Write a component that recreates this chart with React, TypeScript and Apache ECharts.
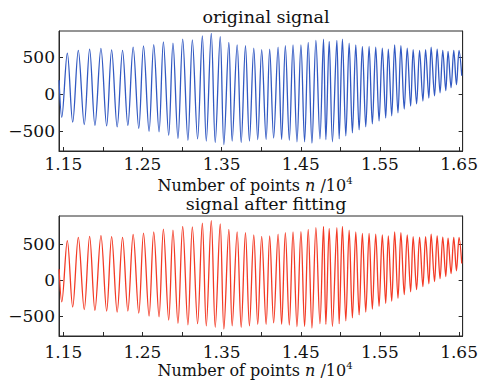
import React, { useEffect, useRef } from "react";
import * as echarts from "echarts";

// Positions (n / 10^4) of the successive peaks and troughs
const extremaX = [
  1.1446, 1.148, 1.155, 1.1618, 1.1689, 1.1764, 1.1832, 1.1899, 1.1975, 1.2047,
  1.211, 1.218, 1.2248, 1.2315, 1.2382, 1.2453, 1.2513, 1.2583, 1.2642, 1.2709,
  1.2764, 1.2831, 1.2885, 1.2948, 1.3008, 1.3074, 1.313, 1.3196, 1.3256, 1.3306,
  1.3369, 1.3419, 1.3482, 1.3528, 1.3591, 1.3633, 1.3696, 1.3747, 1.3801, 1.3851,
  1.3906, 1.3956, 1.4006, 1.4062, 1.4107, 1.4157, 1.4213, 1.4258, 1.4305, 1.4355,
  1.4402, 1.4452, 1.4502, 1.4548, 1.4594, 1.4641, 1.4691, 1.4742, 1.4787, 1.4817,
  1.4859, 1.49, 1.4956, 1.4985, 1.5026, 1.5069, 1.5111, 1.5152, 1.5195, 1.5237,
  1.5278, 1.5321, 1.5363, 1.5404, 1.5447, 1.5489, 1.553, 1.5573, 1.5606, 1.5649,
  1.5686, 1.5728, 1.5765, 1.5807, 1.5845, 1.5888, 1.592, 1.5963, 1.6001, 1.6043,
  1.6077, 1.6118, 1.6147, 1.619, 1.6223, 1.626, 1.6294, 1.6332, 1.6361, 1.6399,
  1.6433, 1.6467, 1.65, 1.6534,
];

const originalSignal = [
  190, -310, 557, -376, 593, -407, 611, -420, 620, -427,
  600, -440, 593, -420, 637, -460, 655, -500, 670, -505,
  709, -553, 690, -597, 744, -620, 736, -600, 789, -630,
  824, -650, 780, -680, 700, -630, 669, -650, 656, -630,
  624, -610, 602, -610, 611, -590, 637, -610, 656, -620,
  669, -640, 669, -640, 700, -660, 727, -600, 744, -610,
  713, -640, 727, -600, 744, -560, 691, -520, 669, -480,
  647, -440, 647, -400, 637, -360, 624, -320, 611, -290,
  669, -250, 656, -200, 624, -160, 602, -130, 593, -90,
  602, -50, 637, -20, 611, 20, 593, 50, 580, 90,
  593, 130, 593, 250,
];

const fittedSignal = [
  150, -300, 545, -370, 590, -405, 605, -415, 615, -425,
  600, -440, 590, -425, 630, -455, 650, -495, 665, -505,
  705, -550, 690, -595, 740, -615, 735, -600, 785, -630,
  820, -650, 775, -675, 700, -630, 665, -650, 655, -630,
  625, -610, 605, -610, 610, -590, 635, -610, 655, -620,
  665, -640, 670, -640, 700, -660, 725, -600, 740, -610,
  715, -640, 725, -600, 740, -560, 690, -520, 665, -480,
  645, -440, 645, -400, 635, -360, 625, -320, 610, -290,
  665, -250, 655, -200, 625, -160, 600, -130, 595, -90,
  600, -50, 635, -20, 610, 20, 595, 50, 580, 90,
  590, 130, 590, 230,
];

const xTickValues = [1.15, 1.2, 1.25, 1.3, 1.35, 1.4, 1.45, 1.5, 1.55, 1.6, 1.65];
const xLabelValues = [1.15, 1.25, 1.35, 1.45, 1.55, 1.65];
const yTickValues = [-500, 0, 500];
const titles = ["original signal", "signal after fitting"];

const FONT = "DejaVu Serif";
const FRAME = "#2a2a2a";

export default function App() {
  const ref = useRef<HTMLDivElement>(null);

  useEffect(() => {
    const chart = echarts.init(ref.current as HTMLDivElement, null, { renderer: "svg" });

    const grids = [
      { left: 59, top: 31, width: 404, height: 120, yMin: -765, yMax: 855, labelMargin: 4, titleY: 17, nameY: 185 },
      { left: 59, top: 216, width: 404, height: 120, yMin: -770, yMax: 885, labelMargin: 7, titleY: 204, nameY: 370 },
    ];

    const yFmt = (v: number) => (v < 0 ? "\u2212" + Math.abs(v) : String(v));

    const xAxis: any[] = [];
    const yAxis: any[] = [];
    grids.forEach((g, gi) => {
      xAxis.push({
        type: "value",
        gridIndex: gi,
        min: 1.1445,
        max: 1.6545,
        axisLine: { show: true, onZero: false, lineStyle: { color: FRAME, width: 1 } },
        axisTick: { show: true, inside: true, length: 4, customValues: xTickValues, lineStyle: { color: FRAME } },
        axisLabel: {
          customValues: xLabelValues,
          formatter: (v: number) => v.toFixed(2),
          fontFamily: FONT,
          fontSize: 17,
          color: "#111",
          margin: g.labelMargin,
        },
        splitLine: { show: false },
      });
      yAxis.push({
        type: "value",
        gridIndex: gi,
        min: g.yMin,
        max: g.yMax,
        axisLine: { show: true, onZero: false, lineStyle: { color: FRAME, width: 1 } },
        axisTick: { show: true, inside: true, length: 4, customValues: yTickValues, lineStyle: { color: FRAME } },
        axisLabel: {
          customValues: yTickValues,
          formatter: yFmt,
          fontFamily: FONT,
          fontSize: 17,
          color: "#111",
          margin: 4,
        },
        splitLine: { show: false },
      });
      yAxis.push({
        type: "value",
        gridIndex: gi,
        position: "right",
        min: g.yMin,
        max: g.yMax,
        axisLine: { show: true, onZero: false, lineStyle: { color: FRAME, width: 1 } },
        axisTick: { show: true, inside: true, length: 4, customValues: yTickValues, lineStyle: { color: FRAME } },
        axisLabel: { show: false },
        splitLine: { show: false },
      });
    });

    const textStyle = (text: string, size: number) => ({
      text,
      font: `${size}px "${FONT}"`,
      fontFamily: FONT,
      fontSize: size,
      fill: "#111",
      align: "center",
      textAlign: "center",
      verticalAlign: "middle",
      textVerticalAlign: "middle",
    });

    const graphic: any[] = [];
    grids.forEach((g, gi) => {
      graphic.push({
        type: "text",
        x: 266,
        y: g.titleY,
        style: textStyle(titles[gi], 17.5),
      });
      graphic.push({
        type: "text",
        x: 255,
        y: g.nameY,
        style: {
          ...textStyle("Number of points {i|n} /10{s|4}", 16),
          lineHeight: 20,
          rich: {
            i: { fontStyle: "italic", fontFamily: FONT, fontSize: 16, fill: "#111", lineHeight: 20 },
            s: { fontFamily: FONT, fontSize: 10, fill: "#111", verticalAlign: "top", lineHeight: 12 },
          },
        },
      });
    });

    chart.setOption({
      animation: false,
      backgroundColor: "#ffffff",
      grid: grids.map((g) => ({
        left: g.left,
        top: g.top,
        width: g.width,
        height: g.height,
        show: true,
        borderColor: FRAME,
        borderWidth: 1,
        backgroundColor: "transparent",
      })),
      xAxis,
      yAxis,
      series: [
        {
          type: "line",
          xAxisIndex: 0,
          yAxisIndex: 0,
          data: extremaX.map((x, i) => [x, originalSignal[i]]),
          showSymbol: false,
          smooth: 0.35,
          lineStyle: { color: "#3259c2", width: 1.3 },
          clip: true,
        },
        {
          type: "line",
          xAxisIndex: 1,
          yAxisIndex: 2,
          data: extremaX.map((x, i) => [x, fittedSignal[i]]),
          showSymbol: false,
          smooth: 0.35,
          lineStyle: { color: "#f33a25", width: 1.3 },
          clip: true,
        },
      ],
      graphic,
    });

    return () => chart.dispose();
  }, []);

  return (
    <div
      ref={ref}
      style={{ position: "fixed", left: 0, top: 0, width: 481, height: 387, background: "#fff" }}
    />
  );
}
